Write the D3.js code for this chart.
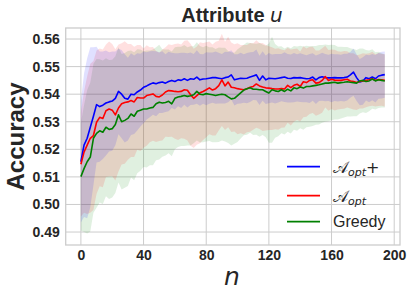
<!DOCTYPE html>
<html><head><meta charset="utf-8">
<script src="https://cdn.jsdelivr.net/npm/d3@7"></script>
<style>html,body{margin:0;padding:0;background:#fff;}svg{display:block;}</style>
</head><body>
<svg id="chart" width="412" height="297"></svg>
<script>
// x values (n)
const nValues = d3.range(0, 195, 2);
// Mean accuracy per series
const aoptPlusMean = [0.5155,0.5215,0.5240,0.5280,0.5320,0.5362,0.5355,0.5360,0.5368,0.5372,
0.5375,0.5385,0.5410,0.5400,0.5385,0.5382,0.5400,0.5398,0.5408,0.5415,
0.5425,0.5430,0.5436,0.5441,0.5438,0.5442,0.5444,0.5440,0.5446,0.5450,
0.5446,0.5452,0.5450,0.5456,0.5450,0.5456,0.5454,0.5462,0.5452,0.5455,
0.5456,0.5458,0.5460,0.5460,0.5458,0.5456,0.5460,0.5462,0.5470,0.5452,
0.5455,0.5458,0.5457,0.5458,0.5462,0.5466,0.5470,0.5450,0.5466,0.5452,
0.5458,0.5457,0.5456,0.5458,0.5460,0.5462,0.5458,0.5457,0.5460,0.5459,
0.5460,0.5458,0.5456,0.5457,0.5462,0.5452,0.5460,0.5463,0.5460,0.5459,
0.5459,0.5460,0.5459,0.5459,0.5460,0.5462,0.5470,0.5480,0.5460,0.5444,
0.5448,0.5460,0.5456,0.5462,0.5456,0.5466,0.5469,0.5471];
const aoptMean = [0.5146,0.5190,0.5215,0.5240,0.5250,0.5298,0.5316,0.5312,0.5340,0.5346,
0.5342,0.5325,0.5350,0.5365,0.5370,0.5372,0.5377,0.5372,0.5388,0.5386,
0.5386,0.5395,0.5398,0.5401,0.5392,0.5390,0.5397,0.5408,0.5413,0.5412,
0.5410,0.5409,0.5410,0.5416,0.5414,0.5398,0.5385,0.5395,0.5405,0.5410,
0.5416,0.5423,0.5415,0.5420,0.5431,0.5452,0.5430,0.5444,0.5425,0.5423,
0.5420,0.5418,0.5416,0.5420,0.5425,0.5428,0.5437,0.5430,0.5426,0.5423,
0.5422,0.5420,0.5419,0.5419,0.5420,0.5419,0.5432,0.5424,0.5432,0.5436,
0.5428,0.5445,0.5442,0.5450,0.5452,0.5440,0.5442,0.5450,0.5464,0.5450,
0.5454,0.5451,0.5450,0.5450,0.5452,0.5454,0.5448,0.5446,0.5442,0.5446,
0.5448,0.5450,0.5452,0.5456,0.5450,0.5453,0.5452,0.5450];
const greedyMean = [0.5101,0.5130,0.5155,0.5172,0.5240,0.5258,0.5267,0.5262,0.5280,0.5272,
0.5275,0.5290,0.5325,0.5300,0.5305,0.5312,0.5328,0.5320,0.5338,0.5342,
0.5346,0.5346,0.5350,0.5352,0.5365,0.5371,0.5368,0.5370,0.5374,0.5365,
0.5385,0.5390,0.5392,0.5395,0.5392,0.5394,0.5398,0.5410,0.5400,0.5398,
0.5402,0.5400,0.5398,0.5395,0.5398,0.5400,0.5398,0.5390,0.5383,0.5385,
0.5395,0.5405,0.5415,0.5420,0.5423,0.5418,0.5418,0.5416,0.5416,0.5410,
0.5404,0.5416,0.5412,0.5410,0.5416,0.5410,0.5418,0.5412,0.5423,0.5420,
0.5426,0.5422,0.5428,0.5428,0.5430,0.5432,0.5434,0.5437,0.5440,0.5440,
0.5442,0.5443,0.5440,0.5442,0.5443,0.5445,0.5443,0.5442,0.5440,0.5448,
0.5450,0.5446,0.5448,0.5455,0.5448,0.5452,0.5450,0.5448];
// Standard deviations (band half-widths)
const aoptPlusStd = [0.022,0.026,0.029,0.029,0.025,0.021,0.020,0.0195,0.019,0.018,
0.018,0.017,0.0155,0.016,0.016,0.015,0.0148,0.0142,0.014,0.0132,
0.013,0.0122,0.012,0.0116,0.0118,0.011,0.0112,0.0105,0.0108,0.0100,
0.0102,0.0096,0.0100,0.0094,0.0098,0.0095,0.0092,0.0097,0.0094,0.0090,
0.0096,0.0093,0.0091,0.0095,0.0092,0.0090,0.0094,0.0091,0.0089,0.0093,
0.0090,0.0092,0.0088,0.0091,0.0090,0.0087,0.0092,0.0089,0.0090,0.0088,
0.0091,0.0087,0.0090,0.0088,0.0086,0.0090,0.0088,0.0087,0.0089,0.0086,
0.0088,0.0087,0.0085,0.0089,0.0086,0.0088,0.0085,0.0087,0.0086,0.0084,
0.0088,0.0085,0.0086,0.0084,0.0087,0.0085,0.0083,0.0086,0.0085,0.0084,
0.0086,0.0083,0.0085,0.0084,0.0086,0.0083,0.0085,0.0084];
const aoptStd = [0.019,0.022,0.025,0.027,0.027,0.026,0.025,0.025,0.024,0.0245,
0.024,0.0238,0.023,0.022,0.0222,0.021,0.0205,0.020,0.019,0.0192,
0.018,0.0182,0.0172,0.017,0.0165,0.016,0.0165,0.0162,0.0168,0.0166,
0.0172,0.0175,0.0170,0.0178,0.0182,0.0185,0.0180,0.0178,0.0183,0.0176,
0.0172,0.0168,0.0165,0.0170,0.0163,0.0167,0.0160,0.0164,0.0162,0.0158,
0.0165,0.0160,0.0162,0.0158,0.0161,0.0157,0.0159,0.0156,0.0160,0.0155,
0.0152,0.0150,0.0146,0.0148,0.0142,0.0140,0.0136,0.0138,0.0132,0.0130,
0.0127,0.0129,0.0124,0.0122,0.0120,0.0118,0.0116,0.0117,0.0112,0.0110,
0.0108,0.0110,0.0106,0.0104,0.0105,0.0102,0.0100,0.0102,0.0099,0.0098,
0.0100,0.0097,0.0096,0.0098,0.0095,0.0096,0.0094,0.0095];
const greedyStd = [0.0195,0.023,0.026,0.027,0.027,0.027,0.026,0.026,0.025,0.0252,
0.025,0.0248,0.0245,0.0246,0.0244,0.0245,0.023,0.0232,0.0225,0.022,
0.021,0.0212,0.0208,0.021,0.0205,0.0208,0.0195,0.0192,0.0188,0.0190,
0.0185,0.0182,0.0180,0.0183,0.0178,0.0180,0.0176,0.0178,0.0175,0.0172,
0.0174,0.0170,0.0172,0.0169,0.0171,0.0168,0.0170,0.0167,0.0169,0.0165,
0.0168,0.0166,0.0164,0.0167,0.0163,0.0166,0.0165,0.0170,0.0164,0.0166,
0.0180,0.0192,0.0170,0.0163,0.0158,0.0156,0.0154,0.0155,0.0152,0.0153,
0.0150,0.0151,0.0148,0.0146,0.0145,0.0143,0.0144,0.0141,0.0140,0.0138,
0.0137,0.0135,0.0132,0.0130,0.0128,0.0126,0.0124,0.0122,0.0120,0.0118,
0.0116,0.0114,0.0110,0.0108,0.0104,0.0102,0.0098,0.0096];
const xTicks = [0, 40, 80, 120, 160, 200];
const yTicks = [0.49, 0.50, 0.51, 0.52, 0.53, 0.54, 0.55, 0.56];
const seriesNames = ["Aopt+", "Aopt", "Greedy"];
const seriesColors = ["#0000ff", "#ff0000", "#008000"];

const svg = d3.select("#chart");
const W = 412, H = 297;
const L = 65.7, R = 400, T = 28, B = 245;
const x = d3.scaleLinear().domain([-9.7, 203.7]).range([L, R]);
const y = d3.scaleLinear().domain([0.4853, 0.5640]).range([B, T]);
svg.append("rect").attr("width", W).attr("height", H).attr("fill", "#fff");

// grid
const grid = svg.append("g");
grid.selectAll(".gx").data(xTicks).join("line")
  .attr("x1", d => x(d)).attr("x2", d => x(d)).attr("y1", T).attr("y2", B)
  .attr("stroke", "#cccccc").attr("stroke-width", 1);
grid.selectAll(".gy").data(yTicks).join("line")
  .attr("y1", d => y(d)).attr("y2", d => y(d)).attr("x1", L).attr("x2", R)
  .attr("stroke", "#cccccc").attr("stroke-width", 1);

const series = [
  {mean: aoptPlusMean, std: aoptPlusStd, color: seriesColors[0]},
  {mean: aoptMean, std: aoptStd, color: seriesColors[1]},
  {mean: greedyMean, std: greedyStd, color: seriesColors[2]}
];

const plot = svg.append("g");
const area = d3.area()
  .x((d, i) => x(nValues[i]))
  .y0(d => y(d[0] - d[1]))
  .y1(d => y(d[0] + d[1]));
const line = d3.line().x((d, i) => x(nValues[i])).y(d => y(d));

// bands: greedy, aopt, aopt+ (blue on top)
[2, 1, 0].forEach(k => {
  const s = series[k];
  plot.append("path")
    .datum(s.mean.map((m, i) => [m, s.std[i]]))
    .attr("d", area)
    .attr("fill", s.color).attr("fill-opacity", 0.12).attr("stroke", "none");
});
[0, 1, 2].forEach(k => {
  const s = series[k];
  plot.append("path").datum(s.mean).attr("d", line)
    .attr("fill", "none").attr("stroke", s.color).attr("stroke-width", 1.6)
    .attr("stroke-linejoin", "round");
});

// spines
svg.append("rect").attr("x", L).attr("y", T).attr("width", R - L).attr("height", B - T)
  .attr("fill", "none").attr("stroke", "#cccccc").attr("stroke-width", 1.3);

// axes using d3 axis generators (no tick marks)
const xAxis = svg.append("g").attr("transform", `translate(0,${B})`)
  .call(d3.axisBottom(x).tickValues(xTicks).tickSize(0).tickPadding(5).tickFormat(d3.format("d")));
const yAxis = svg.append("g").attr("transform", `translate(${L},0)`)
  .call(d3.axisLeft(y).tickValues(yTicks).tickSize(0).tickPadding(6).tickFormat(d3.format(".2f")));
[xAxis, yAxis].forEach(a => {
  a.select(".domain").remove();
  a.selectAll("text").attr("font-family", "'Liberation Sans', Arial, sans-serif")
    .attr("font-size", 14).attr("font-weight", "bold").attr("fill", "#262626");
});
xAxis.selectAll("text").attr("dy", "0.71em");

// title
const title = svg.append("text").attr("x", 232).attr("y", 22).attr("text-anchor", "middle")
  .attr("font-family", "'Liberation Sans', Arial, sans-serif").attr("font-size", 20)
  .attr("font-weight", "bold").attr("fill", "#262626");
title.append("tspan").text("Attribute ");
title.append("tspan").attr("font-family", "'DejaVu Sans'").attr("font-style", "italic")
  .attr("font-weight", "normal").text("u");

// axis labels
svg.append("text").attr("x", 232).attr("y", 285).attr("text-anchor", "middle")
  .attr("font-family", "'DejaVu Sans'").attr("font-style", "italic").attr("font-size", 25)
  .attr("fill", "#262626").text("n");
svg.append("text").attr("transform", "translate(24,136.5) rotate(-90)").attr("text-anchor", "middle")
  .attr("font-family", "'Liberation Sans', Arial, sans-serif").attr("font-size", 24)
  .attr("font-weight", "bold").attr("fill", "#262626").text("Accuracy");

// legend
const legY = [166.7, 195.7, 221.7];
const leg = svg.append("g");
series.forEach((s, i) => {
  leg.append("line").attr("x1", 287).attr("x2", 320).attr("y1", legY[i]).attr("y2", legY[i])
    .attr("stroke", s.color).attr("stroke-width", 1.8);
});
function calLabel(i, plus) {
  const t = leg.append("text").attr("x", 333).attr("y", legY[i] + 6)
    .attr("font-family", "'DejaVu Sans', 'Noto Sans', sans-serif").attr("font-size", 16).attr("fill", "#262626");
  t.append("tspan").text("\u{1D49C}");
  t.append("tspan").attr("font-size", 11).attr("font-style", "italic").attr("dy", 3).text("opt");
  if (plus) t.append("tspan").attr("dy", -3).text("+");
}
calLabel(0, true);
calLabel(1, false);
leg.append("text").attr("x", 333).attr("y", legY[2] + 5.5)
  .attr("font-family", "'Liberation Sans', Arial, sans-serif").attr("font-size", 16)
  .attr("fill", "#262626").text(seriesNames[2]);
</script>
</body></html>
